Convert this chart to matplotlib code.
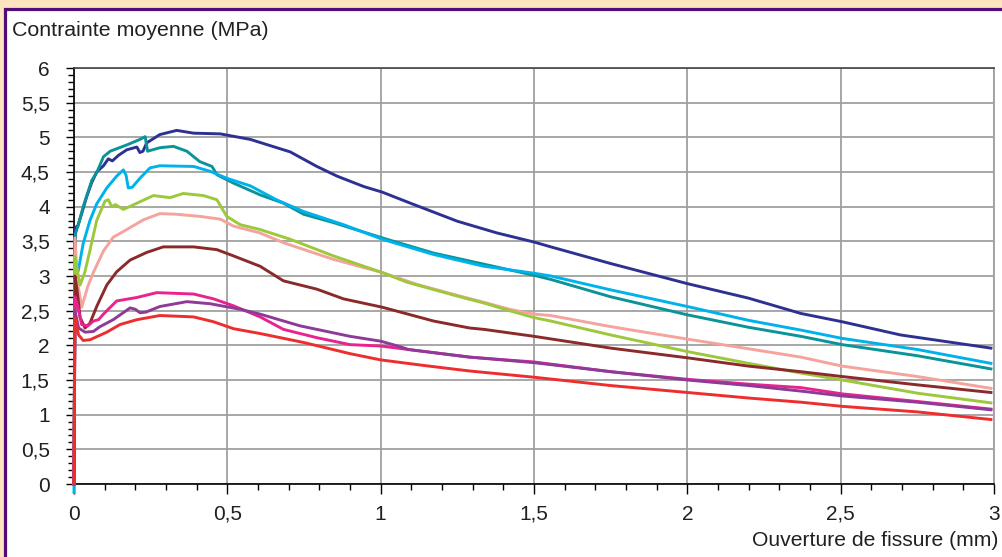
import matplotlib
matplotlib.use("Agg")
import matplotlib.pyplot as plt
from matplotlib.patches import Rectangle
from matplotlib.ticker import MultipleLocator, FuncFormatter

# Curves (crack opening in mm, mean stress in MPa)
navy_x = [0, 0.004, 0.012, 0.025, 0.041, 0.058, 0.074, 0.096, 0.112, 0.125, 0.145, 0.172, 0.205, 0.215,
          0.225, 0.237, 0.28, 0.335, 0.39, 0.477, 0.575, 0.705, 0.792, 0.858, 0.945, 1.005, 1.097, 1.25,
          1.38, 1.5, 1.555, 1.75, 2.0, 2.2, 2.37, 2.505, 2.695, 2.99]
navy_y = [0, 3.70, 3.72, 3.90, 4.14, 4.35, 4.50, 4.59, 4.69, 4.66, 4.74, 4.82, 4.86, 4.78,
          4.80, 4.92, 5.04, 5.10, 5.06, 5.05, 4.97, 4.79, 4.58, 4.44, 4.29, 4.21, 4.05, 3.79,
          3.62, 3.49, 3.42, 3.18, 2.89, 2.68, 2.46, 2.34, 2.15, 1.96]

teal_x = [0, 0.004, 0.015, 0.03, 0.058, 0.074, 0.096, 0.118, 0.172, 0.215, 0.232, 0.24, 0.28, 0.324,
          0.368, 0.41, 0.45, 0.466, 0.52, 0.607, 0.683, 0.749, 0.846, 1.005, 1.173, 1.337, 1.5, 1.555,
          1.75, 2.0, 2.2, 2.37, 2.505, 2.75, 2.99]
teal_y = [0, 3.60, 3.75, 4.00, 4.38, 4.49, 4.72, 4.80, 4.89, 4.97, 5.01, 4.80, 4.85, 4.87,
          4.80, 4.65, 4.58, 4.46, 4.34, 4.17, 4.05, 3.89, 3.77, 3.55, 3.33, 3.17, 3.01, 2.95,
          2.70, 2.44, 2.26, 2.13, 2.01, 1.85, 1.66]

cyan_x = [0, 0.003, 0.014, 0.03, 0.052, 0.074, 0.107, 0.139, 0.161, 0.17, 0.177, 0.19, 0.215, 0.248,
          0.28, 0.39, 0.444, 0.498, 0.575, 0.66, 0.749, 0.879, 1.005, 1.173, 1.337, 1.5, 1.555, 1.75,
          2.0, 2.2, 2.37, 2.505, 2.75, 2.99]
cyan_y = [-0.12, 2.95, 3.08, 3.47, 3.80, 4.04, 4.27, 4.44, 4.53, 4.45, 4.27, 4.28, 4.41, 4.56,
          4.59, 4.58, 4.51, 4.41, 4.30, 4.10, 3.93, 3.74, 3.53, 3.31, 3.14, 3.04, 3.00, 2.80,
          2.56, 2.36, 2.22, 2.10, 1.94, 1.74]

green_x = [0, 0.003, 0.01, 0.02, 0.035, 0.052, 0.074, 0.101, 0.112, 0.123, 0.135, 0.161, 0.205, 0.259,
           0.313, 0.356, 0.422, 0.466, 0.498, 0.542, 0.607, 0.705, 0.846, 1.005, 1.086, 1.25, 1.337,
           1.42, 1.5, 1.555, 1.75, 2.0, 2.2, 2.37, 2.505, 2.75, 2.99]
green_y = [0, 3.28, 3.10, 2.87, 3.05, 3.37, 3.80, 4.08, 4.10, 4.00, 4.03, 3.96, 4.05, 4.16,
           4.13, 4.19, 4.16, 4.10, 3.86, 3.74, 3.67, 3.53, 3.29, 3.05, 2.91, 2.71, 2.61,
           2.50, 2.40, 2.35, 2.15, 1.91, 1.74, 1.60, 1.50, 1.31, 1.17]

salmon_x = [0, 0.003, 0.012, 0.025, 0.045, 0.063, 0.096, 0.128, 0.172, 0.226, 0.28, 0.335, 0.41, 0.477,
            0.52, 0.607, 0.683, 0.846, 1.005, 1.118, 1.25, 1.337, 1.42, 1.5, 1.555, 1.75, 2.0, 2.2,
            2.37, 2.505, 2.75, 2.99]
salmon_y = [0, 3.55, 2.90, 2.55, 2.85, 3.05, 3.36, 3.56, 3.67, 3.81, 3.90, 3.89, 3.86, 3.82,
            3.72, 3.62, 3.48, 3.24, 3.05, 2.88, 2.72, 2.62, 2.52, 2.45, 2.43, 2.27, 2.09, 1.95,
            1.83, 1.70, 1.55, 1.38]

maroon_x = [0, 0.003, 0.01, 0.02, 0.036, 0.052, 0.074, 0.107, 0.139, 0.183, 0.237, 0.291, 0.39, 0.466,
            0.52, 0.607, 0.683, 0.792, 0.879, 1.005, 1.173, 1.29, 1.337, 1.5, 1.75, 2.0, 2.2, 2.37,
            2.505, 2.75, 2.99]
maroon_y = [0, 3.00, 2.80, 2.40, 2.25, 2.32, 2.56, 2.87, 3.06, 3.23, 3.34, 3.42, 3.42, 3.38,
            3.29, 3.14, 2.93, 2.81, 2.67, 2.55, 2.35, 2.25, 2.23, 2.13, 1.96, 1.82, 1.70, 1.62,
            1.55, 1.43, 1.32]

magenta_x = [0, 0.003, 0.01, 0.025, 0.045, 0.063, 0.08, 0.096, 0.139, 0.205, 0.27, 0.39, 0.455, 0.52,
             0.607, 0.683, 0.792, 0.9, 1.0, 1.09, 1.29, 1.5, 1.75, 2.0, 2.2, 2.37, 2.505, 2.75, 2.99]
magenta_y = [0, 2.70, 2.60, 2.30, 2.28, 2.35, 2.37, 2.45, 2.64, 2.69, 2.76, 2.74, 2.67, 2.57,
             2.41, 2.23, 2.11, 2.01, 1.99, 1.94, 1.83, 1.76, 1.62, 1.51, 1.44, 1.39, 1.30, 1.19, 1.08]

purple_x = [0, 0.003, 0.015, 0.036, 0.063, 0.085, 0.128, 0.183, 0.2, 0.215, 0.235, 0.28, 0.368, 0.444,
            0.542, 0.607, 0.738, 0.9, 1.0, 1.064, 1.09, 1.29, 1.5, 1.75, 2.0, 2.2, 2.37, 2.505, 2.75, 2.99]
purple_y = [0, 2.50, 2.25, 2.19, 2.20, 2.27, 2.37, 2.54, 2.52, 2.47, 2.48, 2.56, 2.63, 2.60,
            2.52, 2.45, 2.28, 2.13, 2.06, 1.98, 1.94, 1.83, 1.75, 1.62, 1.50, 1.42, 1.34, 1.27, 1.18, 1.07]

red_x = [0, 0.003, 0.015, 0.03, 0.052, 0.107, 0.15, 0.205, 0.28, 0.39, 0.455, 0.52, 0.607, 0.75,
         0.9, 1.0, 1.14, 1.29, 1.5, 1.75, 2.0, 2.2, 2.37, 2.505, 2.75, 2.99]
red_y = [0, 2.40, 2.15, 2.07, 2.08, 2.19, 2.30, 2.37, 2.43, 2.41, 2.34, 2.24, 2.17, 2.04,
         1.88, 1.79, 1.71, 1.63, 1.54, 1.42, 1.32, 1.24, 1.18, 1.12, 1.04, 0.93]

plt.rcParams['font.family'] = ['Liberation Sans', 'DejaVu Sans']
text_col = '#231f20'

fig = plt.figure(figsize=(10.03, 5.57), dpi=100, facecolor='#fee3bf')

# white panel with purple frame (right and bottom edges run off the picture)
frame = Rectangle((5.5 / 1003, -0.2), 1.2, 1.2 - 8.5 / 557, transform=fig.transFigure,
                  facecolor='white', edgecolor='#520c7a', linewidth=2.3, zorder=-10)
fig.patches.append(frame)

ax = fig.add_axes([74 / 1003, 1 - 484 / 557, 920 / 1003, 416 / 557])
ax.set_zorder(5)
ax.set_facecolor('white')

curves = [
    (navy_x, navy_y, '#2e3192'),
    (teal_x, teal_y, '#0a949a'),
    (cyan_x, cyan_y, '#00b2ec'),
    (salmon_x, salmon_y, '#f4a39d'),
    (green_x, green_y, '#9dc83c'),
    (maroon_x, maroon_y, '#8b2a2a'),
    (magenta_x, magenta_y, '#e8238e'),
    (purple_x, purple_y, '#8e3a98'),
    (red_x, red_y, '#ee2d2e'),
]
for xs, ys, col in curves:
    ax.plot(xs, ys, color=col, lw=2.1, solid_joinstyle='round', clip_on=False, zorder=3)

ax.set_xlim(0, 3)
ax.set_ylim(0, 6)

fmt = FuncFormatter(lambda v, pos: f"{v:g}".replace('.', ','))
ax.xaxis.set_major_locator(MultipleLocator(0.5))
ax.xaxis.set_minor_locator(MultipleLocator(0.1))
ax.yaxis.set_major_locator(MultipleLocator(0.5))
ax.yaxis.set_minor_locator(MultipleLocator(0.1))
ax.xaxis.set_major_formatter(fmt)
ax.yaxis.set_major_formatter(fmt)

ax.grid(True, which='major', color='#a0a0a0', lw=1.3, zorder=1)
ax.set_axisbelow(True)

ax.tick_params(axis='x', which='major', direction='out', length=7, width=1, pad=8,
               labelsize=15, labelcolor=text_col)
ax.tick_params(axis='x', which='minor', direction='out', length=4, width=1)
ax.tick_params(axis='y', which='major', direction='out', length=5.5, width=1, pad=12,
               labelsize=15, labelcolor=text_col)
ax.tick_params(axis='y', which='minor', direction='out', length=4, width=1)

for side in ('left', 'bottom'):
    ax.spines[side].set_color('black')
    ax.spines[side].set_linewidth(1.2)
ax.spines['top'].set_color('#444444')
ax.spines['top'].set_linewidth(1.2)
ax.spines['right'].set_color('#a0a0a0')
ax.spines['right'].set_linewidth(1.3)

fig.text(12 / 1003, 1 - 30 / 557, 'Contrainte moyenne (MPa)', ha='left', va='center',
         fontsize=15.4, color=text_col)
fig.text(998 / 1003, 1 - 541 / 557, 'Ouverture de fissure (mm)', ha='right', va='center',
         fontsize=15.2, color=text_col)

fig.savefig('out.png', dpi=100, facecolor=fig.get_facecolor())
